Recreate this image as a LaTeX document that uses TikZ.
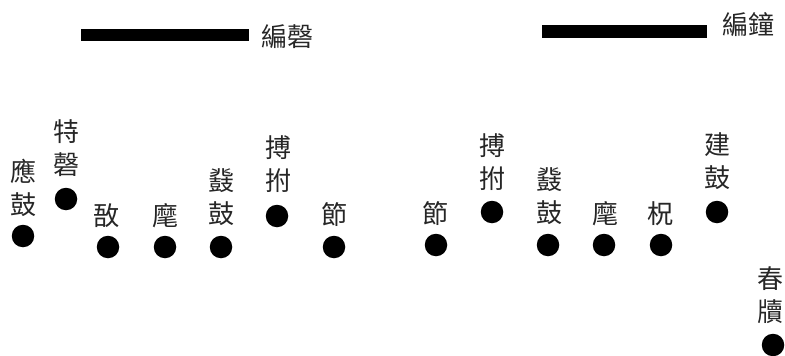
\documentclass[tikz,border=0pt]{standalone}
\usepackage{fontspec}
\setmainfont{Noto Sans CJK TC}
\begin{document}
\begin{tikzpicture}[x=1pt,y=-1pt,
  dot/.style={circle,fill=black,inner sep=0pt,minimum size=22.5pt},
  lab/.style={inner sep=0pt,align=center,text=black!85,font=\fontsize{26}{33}\selectfont},
  bar/.style={fill=black,inner sep=0pt,draw=none}]
\useasboundingbox (0,0) rectangle (785,356);
% bars
\node[bar,minimum width=168pt,minimum height=12.5pt] (barL) at (165,35) {};
\node[lab,anchor=west] (bianqing) at (261,36.5) {編磬};
\node[bar,minimum width=165pt,minimum height=13pt] (barR) at (624.5,31.5) {};
\node[lab,anchor=west] (bianzhong) at (722,24.5) {編鐘};
% left group
\node[dot] (d1) at (23,236) {};
\node[lab] (l1) at (23,187.5) {應\\鼓};
\node[dot] (d2) at (66,199) {};
\node[lab] (l2) at (66,148) {特\\磬};
\node[dot] (d3) at (108,247) {};
\node[lab] (l3) at (106,215.5) {敔};
\node[dot] (d4) at (165,247) {};
\node[lab] (l4) at (165,215.5) {麾};
\node[dot] (d5) at (221,247) {};
\node[lab] (l5) at (221,197.5) {鼗\\鼓};
\node[dot] (d6) at (277,216) {};
\node[lab] (l6) at (278,164.5) {搏\\拊};
\node[dot] (d7) at (334,247) {};
\node[lab] (l7) at (334,215) {節};
% right group
\node[dot] (e1) at (436,245) {};
\node[lab] (m1) at (435,214) {節};
\node[dot] (e2) at (492,212) {};
\node[lab] (m2) at (492,162.5) {搏\\拊};
\node[dot] (e3) at (548,245) {};
\node[lab] (m3) at (549,196) {鼗\\鼓};
\node[dot] (e4) at (604,245) {};
\node[lab] (m4) at (605,213.5) {麾};
\node[dot] (e5) at (661,245) {};
\node[lab] (m5) at (660,213.5) {柷};
\node[dot] (e6) at (717,212) {};
\node[lab] (m6) at (717,161.5) {建\\鼓};
\node[dot] (e7) at (773,345) {};
\node[lab] (m7) at (770,295) {春\\牘};
\end{tikzpicture}
\end{document}
